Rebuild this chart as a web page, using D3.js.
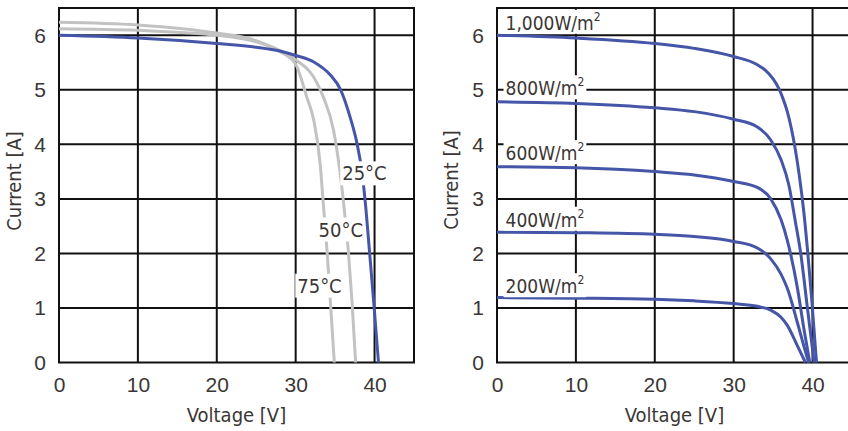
<!DOCTYPE html>
<html>
<head>
<meta charset="utf-8">
<script src="https://cdn.jsdelivr.net/npm/d3@7"></script>
<style>
  html, body { margin: 0; padding: 0; background: #fff; }
  svg { display: block; font-family: "DejaVu Sans Condensed", "DejaVu Sans", sans-serif; font-stretch: condensed; }
</style>
</head>
<body>
<div id="chart"></div>
<script>
// I-V curves of a PV module: left = temperature dependence, right = irradiance dependence.
// Each series is [voltage V, current A].

const voltageTicks = [0, 10, 20, 30, 40];
const currentTicks = [0, 1, 2, 3, 4, 5, 6];

const temp25 = [[0, 6.0], [10, 5.95], [20, 5.85], [25, 5.78], [28, 5.71], [30, 5.63], [32.3, 5.51],
  [34.4, 5.27], [35.7, 5.0], [36.9, 4.5], [37.8, 4.0], [38.4, 3.5], [38.85, 2.9], [39.35, 2.05], [39.9, 1.1], [40.5, 0]];
const temp50 = [[0, 6.12], [10, 6.09], [20, 6.0], [25, 5.88], [28, 5.72], [30, 5.55], [32.3, 5.23],
  [33.5, 4.87], [34.8, 4.26], [35.7, 3.4], [36.2, 2.75], [36.7, 2.0], [37.15, 1.1], [37.6, 0]];
const temp75 = [[0, 6.24], [10, 6.19], [20, 6.04], [25, 5.9], [28, 5.7], [30, 5.47], [31.4, 4.87],
  [32.3, 4.44], [33.1, 3.65], [33.5, 2.92], [34.0, 2.0], [34.45, 1.0], [34.9, 0]];
const tempLabels = ["25°C", "50°C", "75°C"];

const irr1000 = [[0, 6.0], [10, 5.95], [20, 5.85], [25, 5.76], [30, 5.61], [33, 5.46], [34, 5.36],
  [35, 5.2], [35.7, 5.03], [36.3, 4.82], [36.8, 4.6], [37.3, 4.3], [37.8, 3.92], [38.3, 3.45],
  [38.9, 2.75], [39.4, 2.0], [39.9, 1.15], [40.5, 0]];
const irr800 = [[0, 4.78], [10, 4.75], [20, 4.67], [25, 4.6], [30, 4.46], [33, 4.32], [34.7, 4.08],
  [36.0, 3.72], [37.0, 3.25], [37.8, 2.6], [38.5, 2.0], [39.35, 1.0], [40.2, 0]];
const irr600 = [[0, 3.59], [10, 3.57], [20, 3.5], [25, 3.44], [30, 3.32], [33, 3.21], [34.7, 3.0],
  [36.0, 2.62], [36.8, 2.24], [38.1, 1.35], [38.9, 0.62], [39.65, 0]];
const irr400 = [[0, 2.39], [10, 2.38], [20, 2.35], [25, 2.31], [30, 2.22], [33, 2.1], [34.7, 1.9],
  [36.0, 1.62], [36.8, 1.36], [38.1, 0.72], [38.9, 0.3], [39.5, 0]];
const irr200 = [[0, 1.19], [10, 1.18], [20, 1.16], [25, 1.13], [30, 1.08], [33, 1.03], [34.7, 0.96],
  [36.0, 0.83], [36.8, 0.68], [38.1, 0.3], [38.9, 0.06], [39.1, 0]];
const irrLabels = ["1,000W/m", "800W/m", "600W/m", "400W/m", "200W/m"];

const BLUE = "#4555a8";
const GRAY = "#c2c2c2";
const INK = "#3a3634";

const W = 848, H = 431;
const pw = 355, ph = 354.5;

const svg = d3.select("#chart").append("svg").attr("width", W).attr("height", H);

function panel(left) {
  const g = svg.append("g").attr("transform", `translate(${left},8)`);
  const x = d3.scaleLinear().domain([0, 45]).range([0, pw]);
  const y = d3.scaleLinear().domain([0, 6.5]).range([ph, 0]);

  g.append("g").selectAll("line").data(voltageTicks.slice(1)).join("line")
    .attr("x1", (d) => x(d)).attr("x2", (d) => x(d)).attr("y1", 0).attr("y2", ph)
    .attr("stroke", "#111").attr("stroke-width", 2);
  g.append("g").selectAll("line").data(currentTicks.slice(1)).join("line")
    .attr("x1", 0).attr("x2", pw).attr("y1", (d) => y(d)).attr("y2", (d) => y(d))
    .attr("stroke", "#111").attr("stroke-width", 2);
  g.append("rect").attr("width", pw).attr("height", ph)
    .attr("fill", "none").attr("stroke", "#111").attr("stroke-width", 2);

  const xa = g.append("g").attr("transform", `translate(0,${ph})`)
    .call(d3.axisBottom(x).tickValues(voltageTicks).tickFormat(d3.format("d")).tickSize(0).tickPadding(15));
  const ya = g.append("g")
    .call(d3.axisLeft(y).tickValues(currentTicks).tickFormat(d3.format("d")).tickSize(0).tickPadding(13));
  [xa, ya].forEach((a) => {
    a.select(".domain").remove();
    a.selectAll("text").attr("font-family", null).attr("font-size", 21).attr("fill", INK);
  });

  g.append("text").attr("x", pw / 2).attr("y", ph + 59.5).attr("text-anchor", "middle")
    .attr("font-size", 20).attr("fill", INK).text("Voltage [V]");

  return { g, x, y };
}

const line = (x, y) => d3.line().x((d) => x(d[0])).y((d) => y(d[1])).curve(d3.curveMonotoneX);

function curve(p, data, color) {
  p.g.append("path").datum(data).attr("fill", "none").attr("stroke", color)
    .attr("stroke-width", 3).attr("d", line(p.x, p.y));
}

// label with a white box behind it, placed at a (voltage, current) anchor
function label(p, v, i, txt, size, sup) {
  const t = p.g.append("text").attr("x", p.x(v)).attr("y", p.y(i))
    .attr("font-size", size).attr("fill", INK).text(txt);
  if (sup) t.append("tspan").attr("font-size", 12).attr("dy", -9).text(sup);
  const b = t.node().getBBox();
  p.g.insert("rect", () => t.node())
    .attr("x", b.x - 2).attr("y", b.y).attr("width", b.width + 4).attr("height", b.height)
    .attr("fill", "#fff");
}

// left: temperature
const L = panel(59);
curve(L, temp75, GRAY);
curve(L, temp50, GRAY);
curve(L, temp25, BLUE);
label(L, 35.9, 3.34, tempLabels[0], 20);
label(L, 32.9, 2.31, tempLabels[1], 20);
label(L, 30.2, 1.28, tempLabels[2], 20);
svg.append("text").attr("transform", "translate(21,181) rotate(-90)").attr("text-anchor", "middle")
  .attr("font-size", 20).attr("fill", INK).text("Current [A]");

// right: irradiance
const R = panel(497);
[irr1000, irr800, irr600, irr400, irr200].forEach((s) => curve(R, s, BLUE));
[6.1, 4.9, 3.71, 2.49, 1.27].forEach((lvl, k) => label(R, 1.08, lvl, irrLabels[k], 19, "2"));
svg.append("text").attr("transform", "translate(458,180) rotate(-90)").attr("text-anchor", "middle")
  .attr("font-size", 20).attr("fill", INK).text("Current [A]");
</script>
</body>
</html>
